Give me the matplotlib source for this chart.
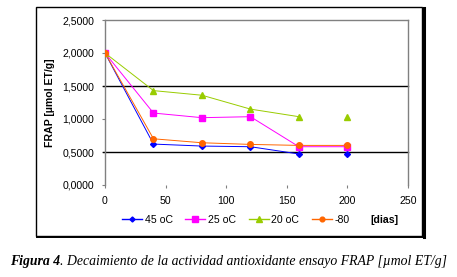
import matplotlib

matplotlib.use("Agg")
import matplotlib.pyplot as plt
from matplotlib.lines import Line2D
from matplotlib.patches import Rectangle

plt.rcParams["font.family"] = ["Liberation Sans", "DejaVu Sans"]

days = [0, 40, 80, 120, 160, 200]
frap_45 = [2.00, 0.62, 0.59, 0.58, 0.47, 0.47]
frap_25 = [2.00, 1.09, 1.02, 1.035, 0.58, 0.58]
frap_20 = [2.00, 1.43, 1.36, 1.15, 1.035, 1.035]
frap_m80 = [2.00, 0.70, 0.64, 0.615, 0.60, 0.60]

series = [
    ("45 oC", frap_45, "#0000FF", "D", 3.0, 5),
    ("25 oC", frap_25, "#FF00FF", "s", 5.0, 6),
    ("20 oC", frap_20, "#99CC00", "^", 5.0, 5),
    ("-80", frap_m80, "#FF6600", "o", 4.0, 6),
]

W, H = 457, 277
fig = plt.figure(figsize=(W / 100, H / 100), dpi=100)


def fx(px):
    return px / W


def fy(py):
    return 1 - py / H


# outer chart frame with drop shadow on the right/bottom
fig.patches.append(Rectangle((fx(36), fy(236)), fx(386), fy(7) - fy(236),
                             transform=fig.transFigure, fill=False,
                             edgecolor="black", lw=1.0))
fig.lines.append(Line2D([fx(423.5), fx(423.5)], [fy(8), fy(237)],
                        transform=fig.transFigure, color="black", lw=2.2))
fig.lines.append(Line2D([fx(37), fx(424.5)], [fy(236.5), fy(236.5)],
                        transform=fig.transFigure, color="black", lw=1.4))

ax = fig.add_axes([fx(105), fy(185), fx(408) - fx(105), fy(20) - fy(185)])
ax.set_xlim(0, 250)
ax.set_ylim(0, 2.5)

for y in (0.5, 1.5):
    ax.axhline(y, xmin=-0.008, xmax=1.0, color="black", lw=1.0, clip_on=False)

for label, vals, color, marker, ms, nline in series:
    ax.plot(days[:nline], vals[:nline], color=color, lw=0.7, zorder=3)
    ax.plot(days, vals, color=color, lw=0, marker=marker, ms=ms, zorder=4)

for side in ("left", "right", "top"):
    ax.spines[side].set_color("#808080")
    ax.spines[side].set_linewidth(1.0)
ax.spines["bottom"].set_visible(False)

ax.set_yticks([0, 0.5, 1.0, 1.5, 2.0, 2.5])
ax.set_yticklabels([f"{v:.4f}".replace(".", ",") for v in ax.get_yticks()])
ax.set_xticks([0, 50, 100, 150, 200, 250])
ax.tick_params(axis="y", length=2, width=0.8, color="#808080", labelsize=7.6,
               pad=6)
ax.tick_params(axis="x", length=2, width=0.8, color="#808080", labelsize=7.6,
               pad=6, direction="out")
ax.set_ylabel("FRAP [\u00b5mol ET/g]", fontsize=7.6, fontweight="bold",
              labelpad=5)

handles = [Line2D([], [], color=c, lw=1.0, marker=m, ms=ms * 0.85)
           for _, _, c, m, ms, _ in series]
fig.legend(handles, [s[0] for s in series], loc="center left",
           bbox_to_anchor=(fx(122), fy(220)), ncol=4, frameon=False,
           fontsize=7.6, handlelength=1.9, handletextpad=0.25,
           columnspacing=1.2, borderpad=0, borderaxespad=0)
fig.text(fx(370), fy(220), "[dias]", fontsize=7.6, fontweight="bold",
         va="center", ha="left")

serif = ["Liberation Serif", "DejaVu Serif"]
head = fig.text(fx(10), fy(262), "Figura 4", fontsize=9.95, fontstyle="italic",
                fontweight="bold", family=serif, va="center", ha="left")
fig.canvas.draw()
bb = head.get_window_extent().transformed(fig.transFigure.inverted())
fig.text(bb.x1, fy(262),
         ". Decaimiento de la actividad antioxidante ensayo FRAP [\u00b5mol ET/g]",
         fontsize=9.95, fontstyle="italic", family=serif, va="center",
         ha="left")

fig.savefig("out.png", dpi=100)
